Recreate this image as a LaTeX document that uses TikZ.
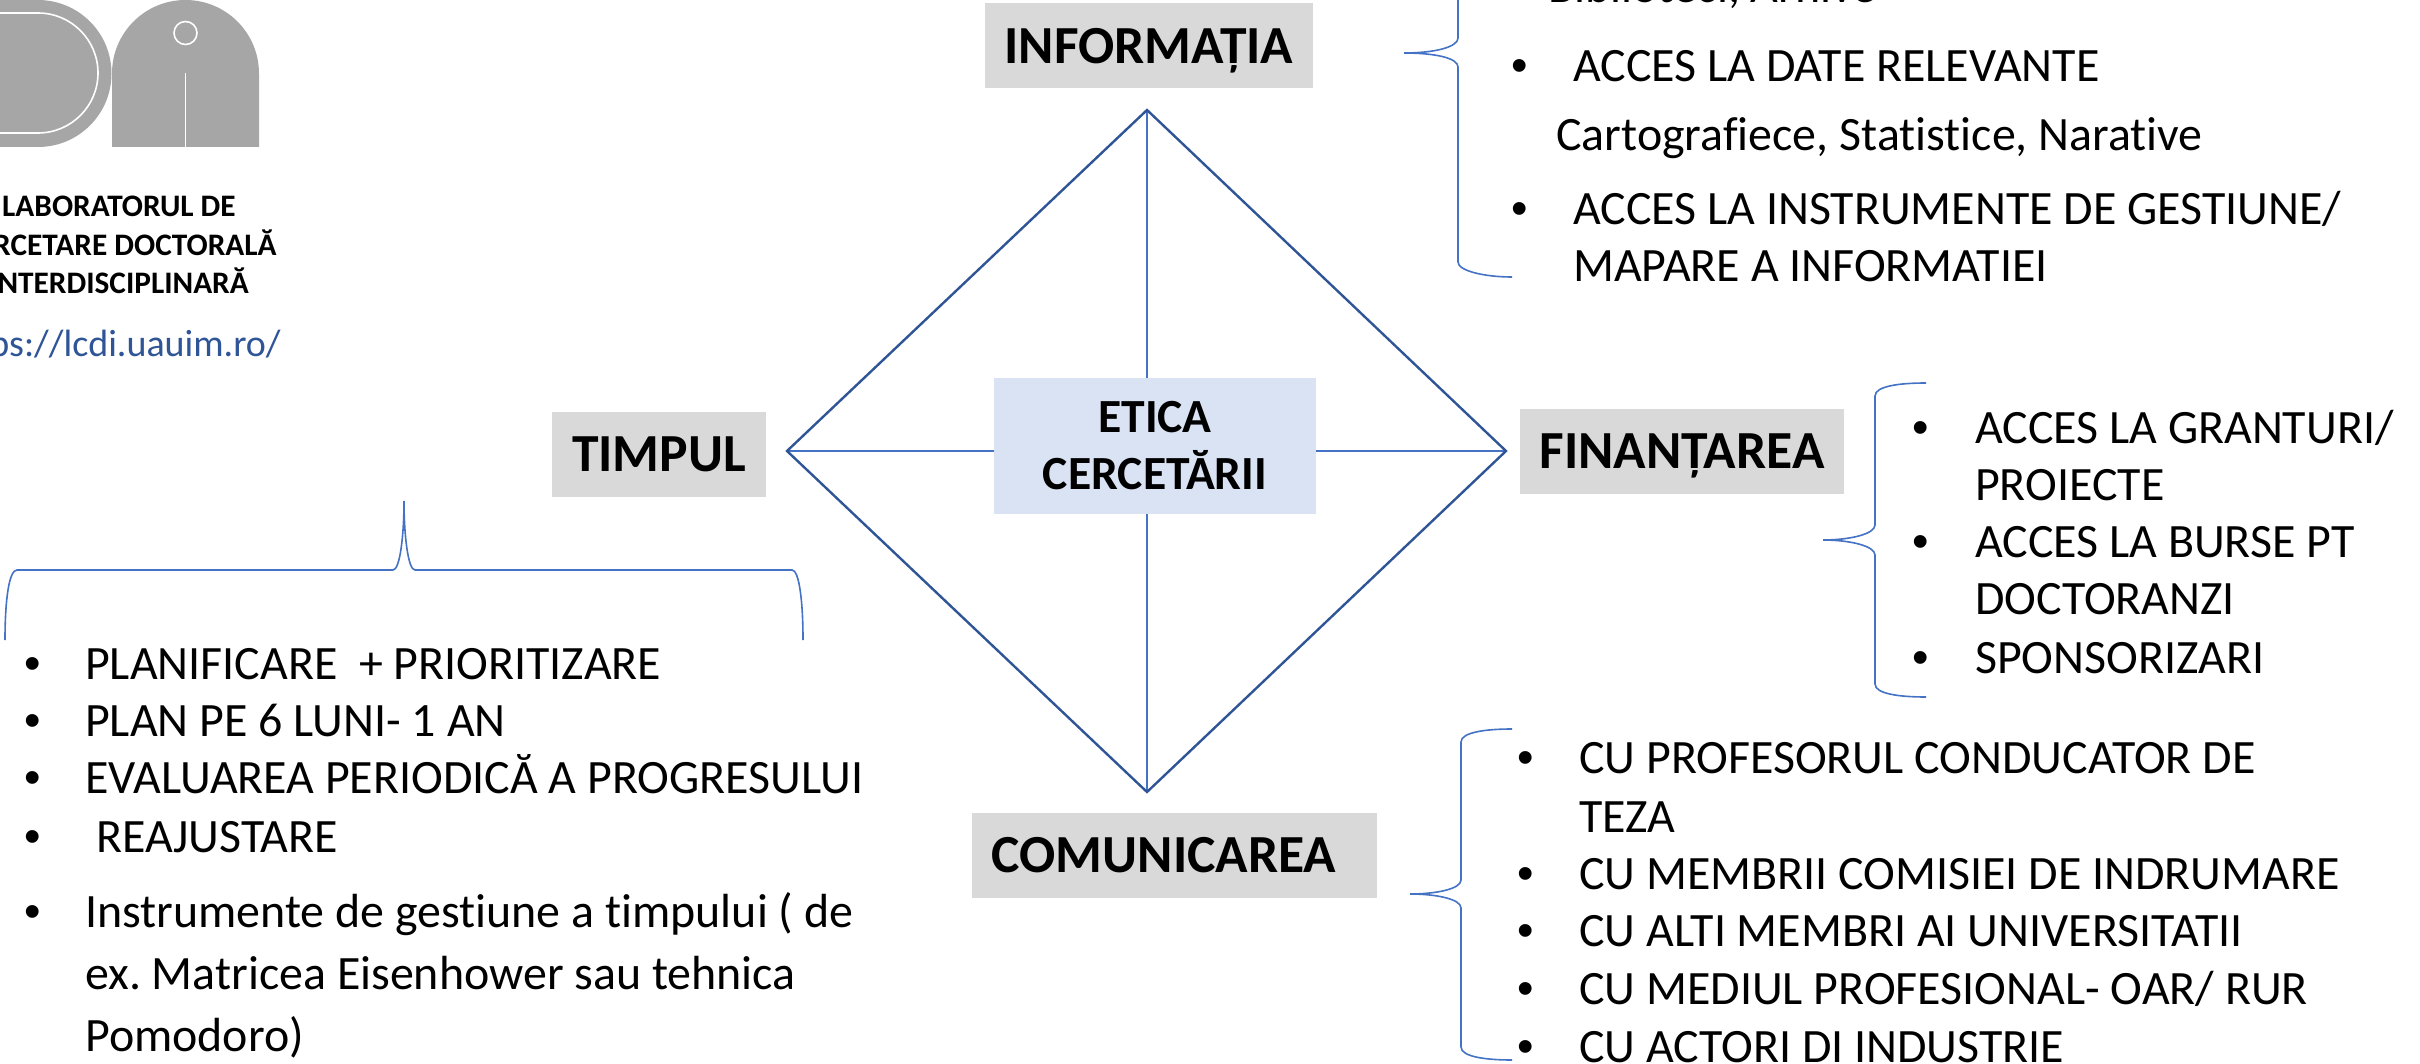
\documentclass[tikz,border=0pt]{standalone}
\usepackage{fontspec}
\setmainfont[Ligatures=NoCommon]{Carlito}
\newfontfamily\bulfont{Liberation Sans}
\definecolor{brc}{HTML}{4472C4}
\definecolor{dia}{HTML}{2F5597}
\definecolor{boxg}{HTML}{D9D9D9}
\definecolor{boxb}{HTML}{DAE3F3}
\definecolor{logog}{HTML}{A6A6A6}
\frenchspacing
\tikzset{
 txt/.style={anchor=base west,inner sep=0pt,font=\fontsize{47.9}{56}\selectfont,text=black},
 bul/.style={anchor=base,inner sep=0pt,font=\bulfont\fontsize{47}{56}\selectfont,text=black},
 lab/.style={fill=boxg,inner sep=0pt,text=black,text depth=0pt,font=\fontsize{53.6}{63}\selectfont\bfseries},
 logot/.style={inner sep=0pt,anchor=base,font=\fontsize{31.3}{36}\selectfont\bfseries,text=black},
 brace/.style={draw=brc,line width=1.6pt},
 diamline/.style={draw=dia,line width=2.4pt},
 axis/.style={draw=brc,line width=1.6pt},
}
\begin{document}
\begin{tikzpicture}[x=1pt,y=-1pt]
\useasboundingbox (0,0) rectangle (2420,1064);
\clip (0,0) rectangle (2420,1064);
% logo
\fill[logog] (-40,147) -- (38,147) arc[start angle=90,end angle=-90,radius=73.5] -- (-40,0) -- cycle;
\draw[white,line width=1.6pt] (-5,133) -- (38,133) arc[start angle=90,end angle=-90,radius=60] -- (-5,13);
\fill[logog] (112,147) -- (112,73.5) arc[start angle=180,end angle=360,radius=73.5] -- (259,147) -- cycle;
\draw[white,line width=1.6pt] (185.5,33) circle[radius=11.5];
\draw[white,line width=1.6pt] (185.5,73) -- (185.5,147);
\node[logot] (l1) at (119,217) {LABORATORUL DE};
\node[logot] (l2) at (119,256) {CERCETARE DOCTORALĂ};
\node[logot] (l3) at (119,294) {INTERDISCIPLINARĂ};
\node[anchor=base east,inner sep=0pt,font=\fontsize{38}{45}\selectfont,text=dia] (url) at (281,357) {https://lcdi.uauim.ro/};
% diamond
\coordinate (dt) at (1147,110);
\coordinate (dr) at (1506,451);
\coordinate (db) at (1147,792);
\coordinate (dl) at (787,451);
\node[fill=boxb,inner sep=0pt,minimum width=322pt,minimum height=136pt,align=center,text=black,font=\fontsize{47.6}{57}\selectfont\bfseries] (etica) at (1155,446) {ETICA\\CERCETĂRII};
\draw[axis] (dt) -- (dt |- etica.north);
\draw[axis] (db) -- (db |- etica.south);
\draw[axis] (dl) -- (dl -| etica.west);
\draw[axis] (dr) -- (dr -| etica.east);
\draw[diamline] (dt) -- (dr) -- (db) -- (dl) -- cycle;
% labels
\node[lab,minimum width=328pt,minimum height=85pt] (inf) at (1149,46) {INFORMAȚIA};
\node[lab,minimum width=214pt,minimum height=85pt] (tim) at (659,454) {TIMPUL};
\node[lab,minimum width=324pt,minimum height=85pt] (fin) at (1682,451) {FINANȚAREA};
\node[lab,minimum width=405pt,minimum height=85pt] (com) at (1174,855) {COMUNICAREA\hspace*{20pt}\mbox{}};
% braces
\coordinate (b1t) at (1404,53);
\draw[brace] (1458,-80) -- (1458,38) .. controls (1458,47) and (1435,53) .. (b1t) .. controls (1435,53) and (1458,58) .. (1458,67) -- (1458,262) .. controls (1458,271) and (1485,277) .. (1512,277);
\coordinate (b2t) at (1823,540);
\draw[brace] (1926,383) .. controls (1900,383) and (1875,386) .. (1875,396) -- (1875,525) .. controls (1875,534) and (1850,540) .. (b2t) .. controls (1850,540) and (1875,546) .. (1875,555) -- (1875,684) .. controls (1875,694) and (1900,697) .. (1926,697);
\coordinate (b3t) at (1410,894);
\draw[brace] (1512,729) .. controls (1487,729) and (1461,732) .. (1461,742) -- (1461,880) .. controls (1461,889) and (1436,894) .. (b3t) .. controls (1436,894) and (1461,899) .. (1461,908) -- (1461,1047) .. controls (1461,1057) and (1487,1060) .. (1512,1060);
\coordinate (b4t) at (404,501);
\draw[brace] (5,640) .. controls (5,600) and (9,570) .. (17,570) -- (393,570) .. controls (400,570) and (404,535) .. (b4t) .. controls (404,535) and (408,570) .. (415,570) -- (792,570) .. controls (799,570) and (803,600) .. (803,640);
% informatia list
\node[txt] (i0) at (1548,3) {Biblioteci, Arhive};
\node[bul] (ib1) at (1520,82) {•};
\node[txt] (i1) at (1573,82) {ACCES LA DATE RELEVANTE};
\node[txt] (i2) at (1556,151) {Cartografiece, Statistice, Narative};
\node[bul] (ib2) at (1520,225) {•};
\node[txt] (i3) at (1573,225) {ACCES LA INSTRUMENTE DE GESTIUNE/};
\node[txt] (i4) at (1573,282) {MAPARE A INFORMATIEI};
% finantare list
\node[bul] (fb1) at (1921,443) {•};
\node[txt] (f1) at (1975,443) {ACCES LA GRANTURI/};
\node[txt] (f2) at (1975,500) {PROIECTE};
\node[bul] (fb2) at (1921,557) {•};
\node[txt] (f3) at (1975,557) {ACCES LA BURSE PT};
\node[txt] (f4) at (1975,614) {DOCTORANZI};
\node[bul] (fb3) at (1921,673) {•};
\node[txt] (f5) at (1975,673) {SPONSORIZARI};
% comunicare list
\node[bul] (cb1) at (1526,773) {•};
\node[txt] (c1) at (1579,773) {CU PROFESORUL CONDUCATOR DE};
\node[txt] (c2) at (1579,832) {TEZA};
\node[bul] (cb2) at (1526,889) {•};
\node[txt] (c3) at (1579,889) {CU MEMBRII COMISIEI DE INDRUMARE};
\node[bul] (cb3) at (1526,946) {•};
\node[txt] (c4) at (1579,946) {CU ALTI MEMBRI AI UNIVERSITATII};
\node[bul] (cb4) at (1526,1004) {•};
\node[txt] (c5) at (1579,1004) {CU MEDIUL PROFESIONAL- OAR/ RUR};
\node[bul] (cb5) at (1526,1062) {•};
\node[txt] (c6) at (1579,1062) {CU ACTORI DI INDUSTRIE};
% timpul list
\node[bul] (tb1) at (33,679) {•};
\node[txt] (t1) at (85,679) {PLANIFICARE\ \ + PRIORITIZARE};
\node[bul] (tb2) at (33,736) {•};
\node[txt] (t2) at (85,736) {PLAN PE 6 LUNI- 1 AN};
\node[bul] (tb3) at (33,793) {•};
\node[txt] (t3) at (85,793) {EVALUAREA PERIODICĂ A PROGRESULUI};
\node[bul] (tb4) at (33,852) {•};
\node[txt] (t4) at (96,852) {REAJUSTARE};
\node[bul] (tb5) at (33,927) {•};
\node[txt] (t5) at (85,927) {Instrumente de gestiune a timpului ( de};
\node[txt] (t6) at (85,989) {ex. Matricea Eisenhower sau tehnica};
\node[txt] (t7) at (85,1051) {Pomodoro)};
\end{tikzpicture}
\end{document}
